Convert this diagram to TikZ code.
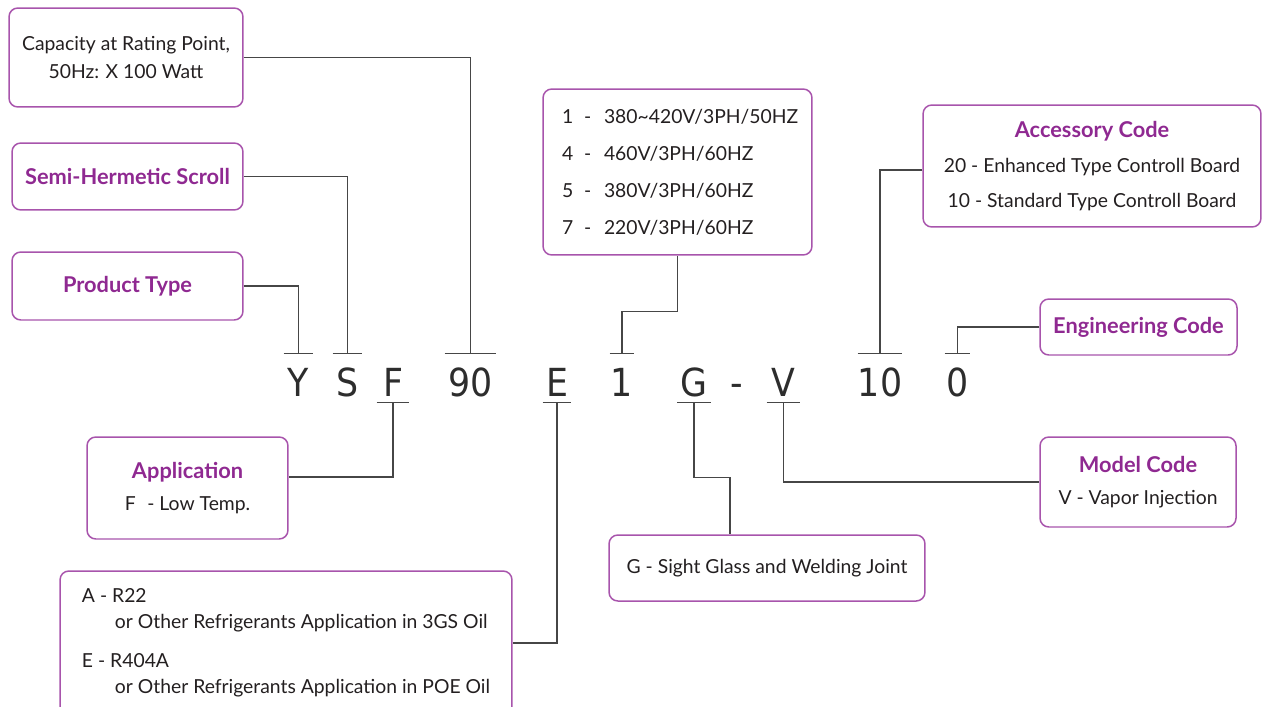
\documentclass[tikz,border=0pt]{standalone}
\usepackage{fontspec}
\setmainfont{Lato}
\newfontfamily\codefont{DejaVu Sans Condensed}
\usetikzlibrary{positioning}
\definecolor{boxpurple}{RGB}{168,84,172}
\definecolor{titlepurple}{RGB}{143,41,145}
\definecolor{linegray}{RGB}{70,70,70}
\definecolor{txtdark}{RGB}{35,31,32}
\definecolor{codegray}{RGB}{45,45,45}
\newcommand{\boxtitle}[1]{{\bfseries\fontsize{12.4}{16}\selectfont\color{titlepurple}#1}}
\tikzset{
    every node/.style={font=\fontsize{11}{16}\selectfont, text=txtdark},
    infobox/.style={draw=boxpurple, line width=0.85pt, rounded corners=5pt, align=center, inner sep=0pt},
    leftbox/.style={infobox, align=left},
    code/.style={font=\codefont\fontsize{22}{22}\selectfont, text=codegray, inner sep=0pt, text height=0.84cm, text depth=0.12cm, anchor=base},
    link/.style={draw=linegray, line width=0.75pt},
    bar/.style={draw=linegray, line width=0.9pt},
}
\begin{document}
\begin{tikzpicture}[x=0.02cm, y=-0.02cm]
\useasboundingbox (0,0) rectangle (1266,706);
\clip (0,0) rectangle (1266,706);
% the model code
\node[code, minimum width=0.58cm] (cY) at (298.5,396) {Y};
\node[code, minimum width=0.58cm] (cS) at (347.5,396) {S};
\node[code, minimum width=0.64cm] (cF) at (393,396) {F};
\node[code, minimum width=1.02cm] (c90) at (470.5,396) {90};
\node[code, minimum width=0.56cm] (cE) at (557,396) {E};
\node[code, minimum width=0.48cm] (c1) at (622,396) {1};
\node[code, minimum width=0.66cm] (cG) at (694,396) {G};
\node[code] (cdash) at (737,396) {-};
\node[code, minimum width=0.66cm] (cV) at (783.5,396) {V};
\node[code, minimum width=0.68cm] (c10) at (880,396) {10};
\node[code, minimum width=0.5cm] (c0) at (957.5,396) {0};
% bars above and below
\foreach \c in {cY,cS,c90,c1,c10,c0}
  \draw[bar] (\c.north west) -- (\c.north east);
\foreach \c in {cF,cE,cG,cV}
  \draw[bar] (\c.south west) -- (\c.south east);

% boxes above the code
\node[infobox, minimum width=4.68cm, minimum height=1.98cm] (cap) at (126,57.5)
  {Capacity at Rating Point,\\ 50Hz: X 100 Watt};
\node[infobox, minimum width=4.62cm, minimum height=1.34cm] (semi) at (127.5,176.5)
  {\boxtitle{Semi-Hermetic Scroll}};
\node[infobox, minimum width=4.62cm, minimum height=1.36cm] (prod) at (127.5,286)
  {\boxtitle{Product Type}};
\node[leftbox, minimum width=5.38cm, minimum height=3.32cm, text width=4.62cm, inner xsep=0.3cm] (volt) at (677.5,172)
  {\makebox[0.44cm][l]{1}\makebox[0.4cm][l]{-}380\textasciitilde420V/3PH/50HZ\\[5pt]
   \makebox[0.44cm][l]{4}\makebox[0.4cm][l]{-}460V/3PH/60HZ\\[5pt]
   \makebox[0.44cm][l]{5}\makebox[0.4cm][l]{-}380V/3PH/60HZ\\[5pt]
   \makebox[0.44cm][l]{7}\makebox[0.4cm][l]{-}220V/3PH/60HZ};
\node[infobox, minimum width=6.76cm, minimum height=2.44cm] (acc) at (1092,166)
  {\boxtitle{Accessory Code}\\[4pt]
   20 - Enhanced Type Controll Board\\[4pt]
   10 - Standard Type Controll Board};
\node[infobox, minimum width=3.94cm, minimum height=1.12cm] (eng) at (1138.5,327)
  {\boxtitle{Engineering Code}};

% boxes below the code
\node[infobox, minimum width=4.02cm, minimum height=2.04cm] (appl) at (187.5,488)
  {\boxtitle{Application}\\[2pt] F\hspace{0.6em}- Low Temp.};
\node[leftbox, minimum width=9.04cm, minimum height=2.88cm] (refr) at (286,643)
  {A - R22\\[-1pt]
   \hspace*{0.66cm}or Other Refrigerants Application in 3GS Oil\\[6pt]
   E - R404A\\[-1pt]
   \hspace*{0.66cm}or Other Refrigerants Application in POE Oil};
\node[infobox, minimum width=6.32cm, minimum height=1.32cm] (gbox) at (767,568)
  {G - Sight Glass and Welding Joint};
\node[infobox, minimum width=3.92cm, minimum height=1.8cm] (model) at (1138,482)
  {\boxtitle{Model Code}\\[2pt] V - Vapor Injection};

% connectors
\draw[link] (cap.east) -| (c90.north);
\draw[link] (semi.east) -| (cS.north);
\draw[link] (prod.east) -| (cY.north);
\draw[link] (volt.south) -- ++(0,56) -| (c1.north);
\draw[link] ([yshift=-0.08cm]acc.west) -| (c10.north);
\draw[link] (eng.west) -| (c0.north);
\draw[link] (cF.south) |- ([yshift=0.22cm]appl.east);
\draw[link] (cE.south) |- (refr.east);
\draw[link] (cG.south) -- ++(0,75) -| ([xshift=-0.74cm]gbox.north);
\draw[link] (cV.south) |- (model.west);
\end{tikzpicture}
\end{document}
